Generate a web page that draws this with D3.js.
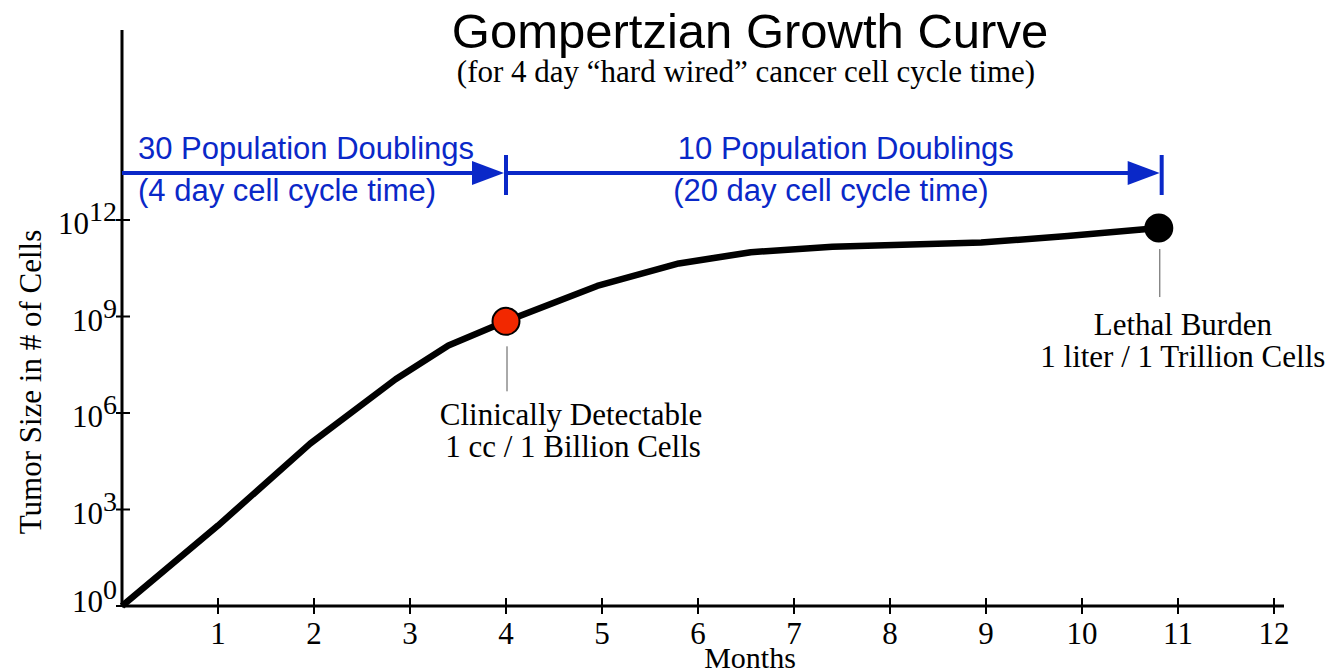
<!DOCTYPE html>
<html>
<head>
<meta charset="utf-8">
<script src="https://cdn.jsdelivr.net/npm/d3@7"></script>
<style>
  html, body { margin: 0; padding: 0; background: #fff; }
  svg { display: block; }
  .serif { font-family: "Liberation Serif", "Times New Roman", serif; }
  .sans { font-family: "Liberation Sans", Arial, sans-serif; }
</style>
</head>
<body>
<svg id="vis" width="1325" height="672"></svg>
<script>
// growth curve: months vs log10(cell count)
const months = [0, 1, 1.96, 2.85, 3.4, 4.0, 4.95, 5.8, 6.55, 7.4, 8.95, 9.85, 10.8];
const cellExp = [0, 2.5, 5.05, 7.05, 8.1, 8.85, 9.95, 10.65, 11.0, 11.17, 11.3, 11.5, 11.75];

const xTickValues = [1, 2, 3, 4, 5, 6, 7, 8, 9, 10, 11, 12];
const yTickExps = [0, 3, 6, 9, 12];

// doubling phases shown as blue arrows
const phaseStart = [0, 4];
const phaseEnd = [4, 10.83];
const phaseTitle = ["30 Population Doublings", "10 Population Doublings"];
const phaseSub = ["(4 day cell cycle time)", "(20 day cell cycle time)"];

// highlighted points
const markerMonth = [4.0, 10.8];
const markerExp = [8.85, 11.75];
const markerFill = ["#f22800", "#000"];
const markerLine1 = ["Clinically Detectable", "Lethal Burden"];
const markerLine2 = ["1 cc / 1 Billion Cells", "1 liter / 1 Trillion Cells"];

const blue = "#0a28c8";

const svg = d3.select("#vis");

const x = d3.scaleLinear().domain([0, 12]).range([122, 1274]);
const y = d3.scaleLog().domain([1, 1e12]).range([606, 220]);

// title
svg.append("text").attr("class", "sans")
  .attr("x", 750).attr("y", 48)
  .attr("text-anchor", "middle").attr("font-size", 49)
  .text("Gompertzian Growth Curve");
svg.append("text").attr("class", "serif")
  .attr("x", 746).attr("y", 82)
  .attr("text-anchor", "middle").attr("font-size", 31)
  .text("(for 4 day \u201chard wired\u201d cancer cell cycle time)");

// axes
const gx = svg.append("g").attr("transform", "translate(0,606)");
gx.append("line").attr("x1", 122).attr("x2", 1284)
  .attr("stroke", "#000").attr("stroke-width", 3);
gx.selectAll(".tick").data(xTickValues).join("line")
  .attr("x1", d => x(d)).attr("x2", d => x(d))
  .attr("y1", -8).attr("y2", 8)
  .attr("stroke", "#000").attr("stroke-width", 2);
gx.selectAll(".lbl").data(xTickValues).join("text")
  .attr("class", "serif")
  .attr("x", d => x(d)).attr("y", 38)
  .attr("text-anchor", "middle").attr("font-size", 31)
  .text(d => d);
svg.append("text").attr("class", "serif")
  .attr("x", 750).attr("y", 668)
  .attr("text-anchor", "middle").attr("font-size", 30)
  .text("Months");

const gy = svg.append("g").attr("transform", "translate(122,0)");
gy.append("line").attr("y1", 30).attr("y2", 607)
  .attr("stroke", "#000").attr("stroke-width", 3);
gy.selectAll(".tick").data(yTickExps).join("line")
  .attr("x1", -6).attr("x2", 8)
  .attr("y1", d => y(10 ** d)).attr("y2", d => y(10 ** d))
  .attr("stroke", "#000").attr("stroke-width", 2);
const ylbl = gy.selectAll(".lbl").data(yTickExps).join("text")
  .attr("class", "serif")
  .attr("text-anchor", "end").attr("font-size", 31)
  .attr("x", -5)
  .attr("y", d => y(10 ** d) + (d === 0 ? 6 : 14));
ylbl.append("tspan").text("10");
ylbl.append("tspan").attr("dy", -13).attr("font-size", 28).text(d => d);

svg.append("text").attr("class", "serif")
  .attr("transform", "translate(41,382) rotate(-90)")
  .attr("text-anchor", "middle").attr("font-size", 31)
  .text("Tumor Size in # of Cells");

// phase arrows
const arrowY = 173;
const phases = svg.append("g").selectAll("g").data(phaseStart).join("g");
phases.append("line")
  .attr("x1", d => x(d)).attr("x2", (d, i) => x(phaseEnd[i]) - 10)
  .attr("y1", arrowY).attr("y2", arrowY)
  .attr("stroke", blue).attr("stroke-width", 4);
phases.append("path")
  .attr("d", (d, i) => {
    const e = x(phaseEnd[i]) - 2;
    return `M${e},${arrowY} L${e - 32},${arrowY - 12} L${e - 32},${arrowY + 12} Z`;
  })
  .attr("fill", blue);
phases.append("line")
  .attr("x1", (d, i) => x(phaseEnd[i])).attr("x2", (d, i) => x(phaseEnd[i]))
  .attr("y1", arrowY - 18).attr("y2", arrowY + 22)
  .attr("stroke", blue).attr("stroke-width", 4);
phases.append("text").attr("class", "sans")
  .attr("x", (d, i) => i === 0 ? x(d) + 16 : (x(d) + x(phaseEnd[i])) / 2 + 12)
  .attr("y", arrowY - 14)
  .attr("text-anchor", (d, i) => i === 0 ? "start" : "middle")
  .attr("font-size", 31).attr("fill", blue)
  .text((d, i) => phaseTitle[i]);
phases.append("text").attr("class", "sans")
  .attr("x", (d, i) => i === 0 ? x(d) + 16 : (x(d) + x(phaseEnd[i])) / 2 - 3)
  .attr("y", arrowY + 28)
  .attr("text-anchor", (d, i) => i === 0 ? "start" : "middle")
  .attr("font-size", 31).attr("fill", blue)
  .text((d, i) => phaseSub[i]);

// growth curve
const line = d3.line()
  .x((d, i) => x(months[i]))
  .y(d => y(10 ** d));
svg.append("path")
  .datum(cellExp)
  .attr("d", line)
  .attr("fill", "none")
  .attr("stroke", "#000")
  .attr("stroke-width", 6.5)
  .attr("stroke-linejoin", "round");

// markers and annotations
const marks = svg.append("g").selectAll("g").data(markerMonth).join("g")
  .attr("transform", (d, i) => `translate(${x(d)},${y(10 ** markerExp[i])})`);
marks.append("line")
  .attr("x1", 1).attr("x2", 1)
  .attr("y1", (d, i) => i === 0 ? 25 : 21)
  .attr("y2", (d, i) => i === 0 ? 70 : 69)
  .attr("stroke", "#555").attr("stroke-width", 1);
marks.append("circle")
  .attr("r", 13.5)
  .attr("fill", (d, i) => markerFill[i])
  .attr("stroke", "#000").attr("stroke-width", 2);
marks.append("text").attr("class", "serif")
  .attr("x", (d, i) => i === 0 ? 65 : 24)
  .attr("y", (d, i) => i === 0 ? 104 : 107)
  .attr("text-anchor", "middle").attr("font-size", 31)
  .text((d, i) => markerLine1[i]);
marks.append("text").attr("class", "serif")
  .attr("x", (d, i) => i === 0 ? 67 : 24)
  .attr("y", (d, i) => i === 0 ? 136 : 139)
  .attr("text-anchor", "middle").attr("font-size", 31)
  .text((d, i) => markerLine2[i]);
</script>
</body>
</html>
